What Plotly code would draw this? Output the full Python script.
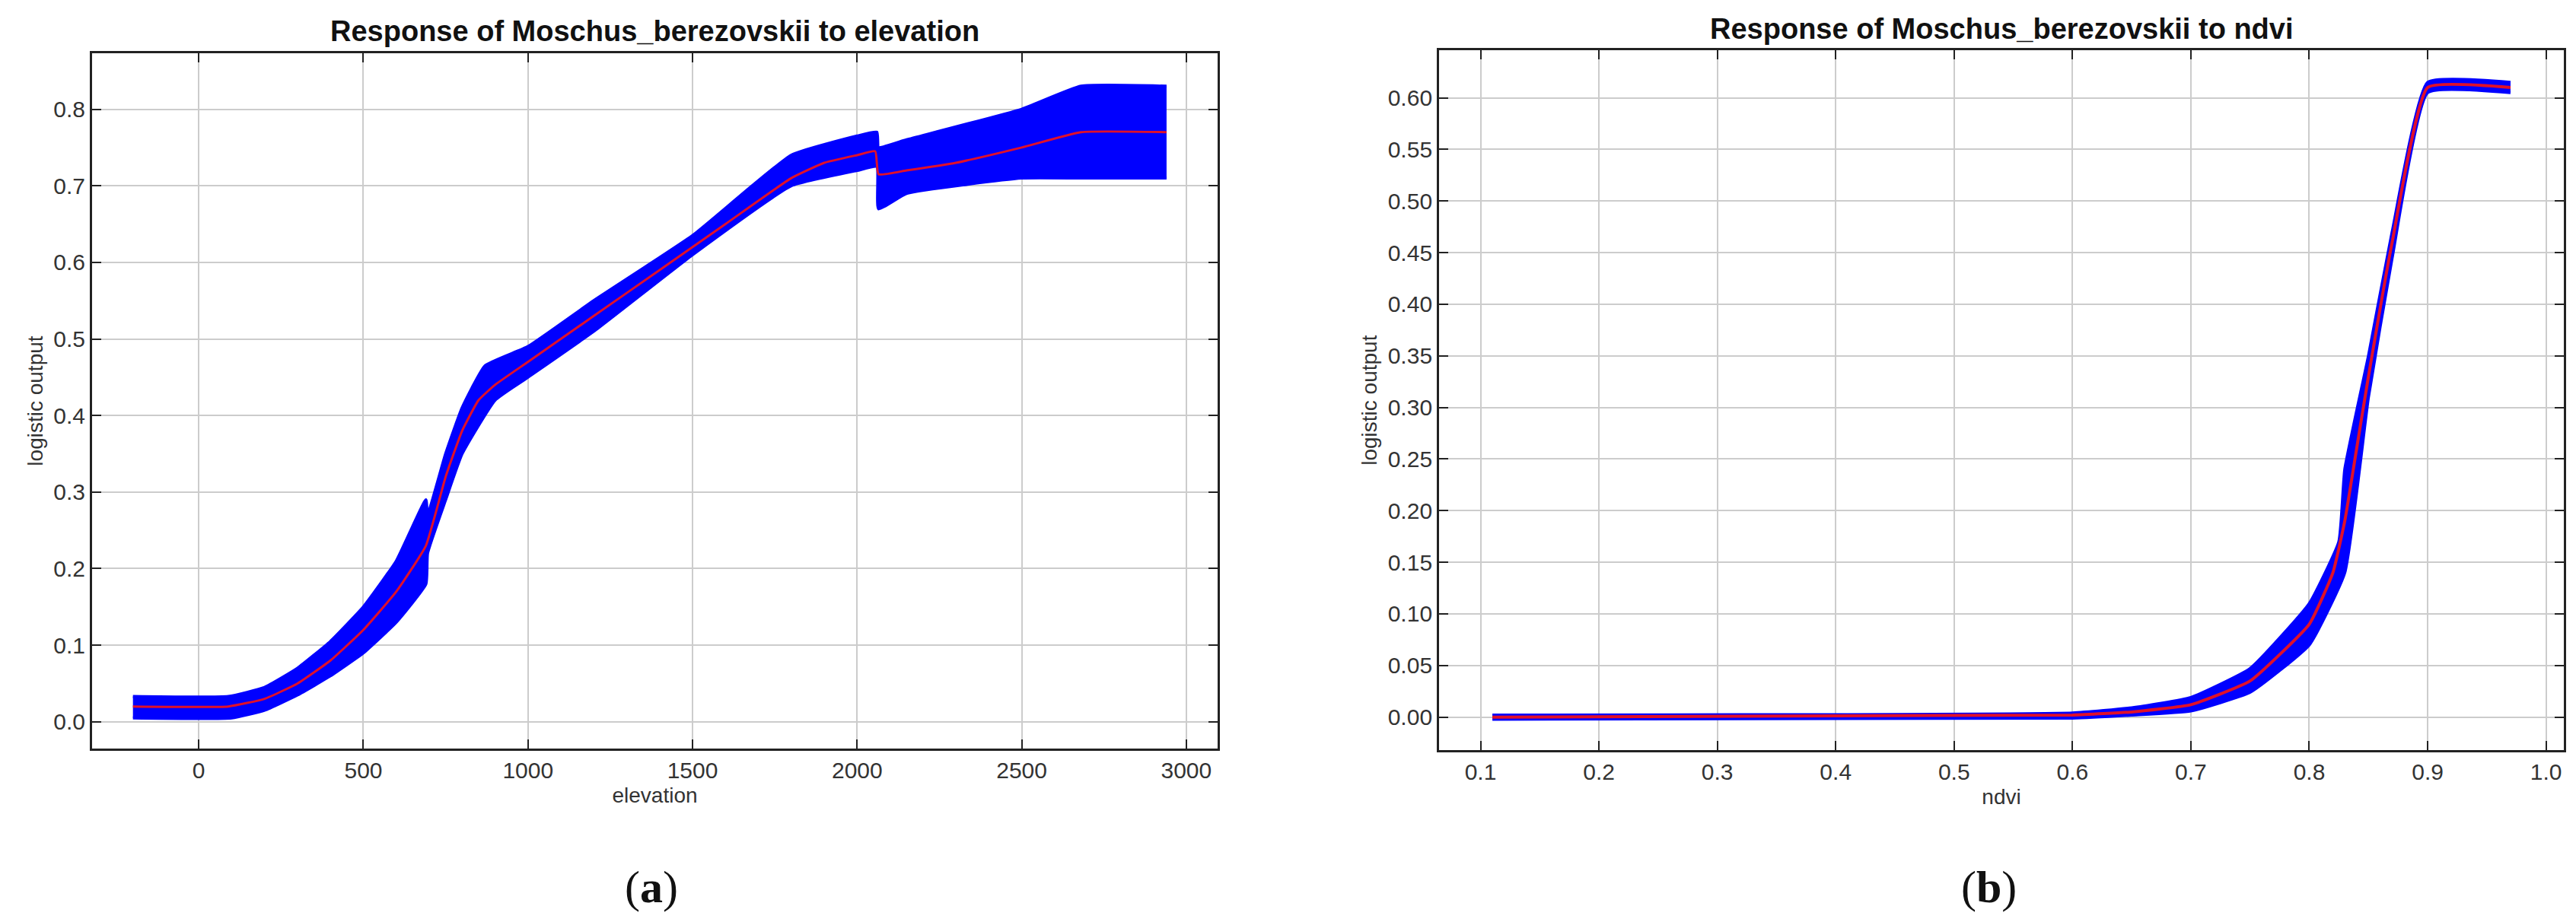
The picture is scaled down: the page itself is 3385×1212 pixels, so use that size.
import plotly.graph_objects as go

# Panel (a): elevation
elev_x = [-200, 90, 200, 300, 400, 500, 600, 690, 750, 800, 850, 900, 1000, 1200, 1400, 1600, 1800, 1900, 2000, 2055, 2065, 2150, 2300, 2500, 2680, 2940]
elev_mean = [0.02, 0.02, 0.03, 0.05, 0.08, 0.12, 0.17, 0.23, 0.32, 0.38, 0.42, 0.44, 0.47, 0.53, 0.59, 0.65, 0.71, 0.73, 0.74, 0.745, 0.715, 0.72, 0.73, 0.75, 0.77, 0.77]
elev_up_x = [-200, 90, 200, 300, 400, 500, 600, 690, 695, 750, 800, 870, 1000, 1200, 1500, 1800, 2000, 2060, 2065, 2150, 2500, 2680, 2940]
elev_up = [0.033, 0.033, 0.045, 0.07, 0.105, 0.15, 0.21, 0.29, 0.27, 0.35, 0.41, 0.465, 0.49, 0.55, 0.635, 0.74, 0.765, 0.77, 0.75, 0.76, 0.8, 0.83, 0.83]
elev_lo_x = [-200, 100, 200, 300, 400, 500, 600, 690, 695, 750, 800, 900, 1000, 1200, 1500, 1800, 2000, 2060, 2065, 2150, 2500, 2680, 2940]
elev_lo = [0.005, 0.005, 0.015, 0.035, 0.06, 0.09, 0.13, 0.18, 0.22, 0.29, 0.35, 0.42, 0.45, 0.51, 0.61, 0.70, 0.72, 0.725, 0.67, 0.69, 0.71, 0.71, 0.71]

# Panel (b): ndvi
ndvi_x = [0.11, 0.6, 0.65, 0.7, 0.75, 0.8, 0.82, 0.83, 0.84, 0.85, 0.87, 0.9, 0.97]
ndvi_mean = [0.0, 0.002, 0.005, 0.012, 0.035, 0.09, 0.14, 0.19, 0.26, 0.33, 0.46, 0.61, 0.61]
ndvi_up_x = [0.11, 0.6, 0.65, 0.7, 0.75, 0.8, 0.825, 0.83, 0.85, 0.87, 0.9, 0.97]
ndvi_up = [0.002, 0.004, 0.009, 0.019, 0.047, 0.11, 0.17, 0.24, 0.35, 0.47, 0.615, 0.615]
ndvi_lo_x = [0.11, 0.6, 0.65, 0.7, 0.75, 0.8, 0.83, 0.85, 0.87, 0.9, 0.97]
ndvi_lo = [-0.002, -0.001, 0.002, 0.006, 0.024, 0.07, 0.14, 0.31, 0.445, 0.605, 0.605]

BLUE = "#0000ff"
RED = "#e0102a"
FONT = "Liberation Sans Narrow, Liberation Sans, Arial"

fig = go.Figure()

def band(xu, yu, xl, yl, xa, ya):
    fig.add_trace(go.Scatter(x=xl, y=yl, mode="lines", line=dict(color=BLUE, width=4, shape="spline", smoothing=0.4),
                             xaxis=xa, yaxis=ya, showlegend=False, hoverinfo="skip"))
    fig.add_trace(go.Scatter(x=xu, y=yu, mode="lines", line=dict(color=BLUE, width=4, shape="spline", smoothing=0.4),
                             fill="tonexty", fillcolor=BLUE,
                             xaxis=xa, yaxis=ya, showlegend=False, hoverinfo="skip"))

band(elev_up_x, elev_up, elev_lo_x, elev_lo, "x", "y")
fig.add_trace(go.Scatter(x=elev_x, y=elev_mean, mode="lines", line=dict(color=RED, width=3, shape="spline", smoothing=0.4),
                         xaxis="x", yaxis="y", showlegend=False))
band(ndvi_up_x, ndvi_up, ndvi_lo_x, ndvi_lo, "x2", "y2")
fig.add_trace(go.Scatter(x=ndvi_x, y=ndvi_mean, mode="lines", line=dict(color=RED, width=4, shape="spline", smoothing=0.4),
                         xaxis="x2", yaxis="y2", showlegend=False))

ax = dict(showline=True, linecolor="#222", linewidth=3, mirror="ticks", ticks="inside",
          ticklen=12, tickwidth=2, tickcolor="#222", showgrid=True, gridcolor="#cccccc",
          gridwidth=2, zeroline=False, tickfont=dict(family=FONT, size=30, color="#333"),
          title_font=dict(family=FONT, size=28, color="#333"))

fig.update_layout(
    width=3385, height=1212, margin=dict(l=0, r=0, t=0, b=0),
    paper_bgcolor="white", plot_bgcolor="white",
    xaxis=dict(ax, domain=[0.0334, 0.4703], range=[-324, 3095], tickvals=[0, 500, 1000, 1500, 2000, 2500, 3000],
               title=dict(text="elevation", standoff=8)),
    yaxis=dict(ax, domain=[0.1947, 0.9488], range=[-0.035, 0.873], tickvals=[0, 0.1, 0.2, 0.3, 0.4, 0.5, 0.6, 0.7, 0.8],
               tickformat=".1f", title=dict(text="logistic output", standoff=6,
                                            font=dict(family="Liberation Sans, Arial", size=28, color="#333"))),
    xaxis2=dict(ax, domain=[0.5563, 0.9929], range=[0.065, 1.015], anchor="y2",
                tickvals=[0.1, 0.2, 0.3, 0.4, 0.5, 0.6, 0.7, 0.8, 0.9, 1.0], tickformat=".1f",
                title=dict(text="ndvi", standoff=8)),
    yaxis2=dict(ax, domain=[0.193, 0.952], range=[-0.032, 0.646], anchor="x2",
                tickvals=[i * 0.05 for i in range(13)], tickformat=".2f",
                title=dict(text="logistic output", standoff=6,
                           font=dict(family="Liberation Sans, Arial", size=28, color="#333"))),
    annotations=[
        dict(text="<b>Response of Moschus_berezovskii to elevation</b>", x=(0.0334 + 0.4703) / 2, y=1 - 33 / 1212,
             xref="paper", yref="paper", xanchor="center", yanchor="middle", showarrow=False,
             font=dict(family=FONT, size=38, color="#111")),
        dict(text="<b>Response of Moschus_berezovskii to ndvi</b>", x=(0.5563 + 0.9929) / 2, y=1 - 30 / 1212,
             xref="paper", yref="paper", xanchor="center", yanchor="middle", showarrow=False,
             font=dict(family=FONT, size=38, color="#111")),
        dict(text="(<b>a</b>)", x=848 / 3385, y=1 - 1158 / 1212, xref="paper", yref="paper",
             xanchor="center", yanchor="middle", showarrow=False,
             font=dict(family="Liberation Serif, Times New Roman", size=60, color="#111")),
        dict(text="(<b>b</b>)", x=2605 / 3385, y=1 - 1158 / 1212, xref="paper", yref="paper",
             xanchor="center", yanchor="middle", showarrow=False,
             font=dict(family="Liberation Serif, Times New Roman", size=60, color="#111")),
    ],
)

fig.write_html("out.html")
